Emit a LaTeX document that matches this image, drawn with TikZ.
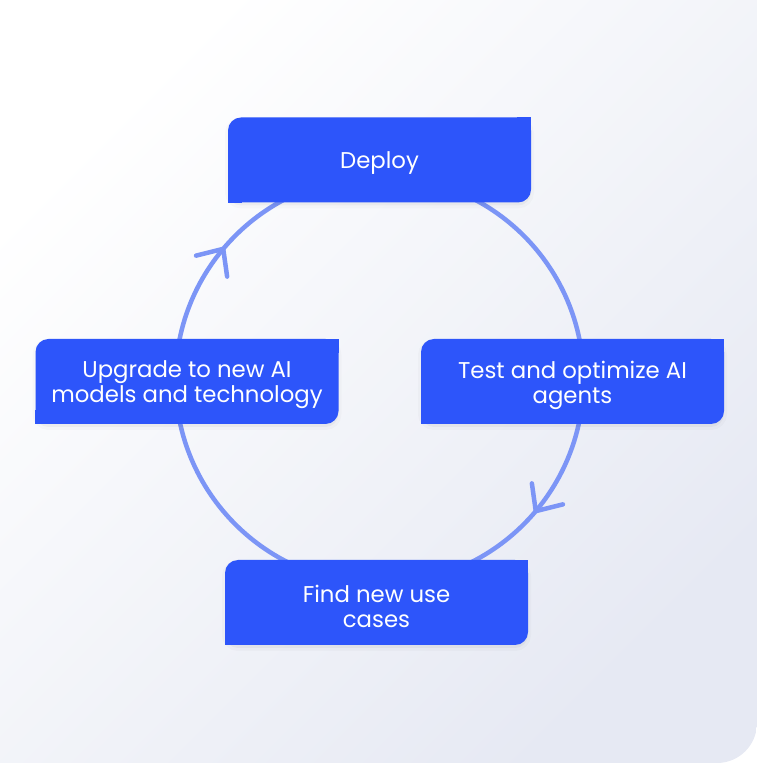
\documentclass[tikz,border=0pt]{standalone}
\usepackage{fontspec}
\setmainfont{Poppins}
\usetikzlibrary{calc}
\definecolor{boxblue}{RGB}{45,85,250}
\definecolor{ringblue}{RGB}{124,149,246}
\definecolor{bgA}{RGB}{255,255,255}
\definecolor{bgB}{RGB}{230,233,243}
\begin{document}
\begin{tikzpicture}[x=1pt,y=1pt,
  stepbox/.style={fill=boxblue, minimum width=303pt, minimum height=85pt,
    rounded corners=13pt, inner sep=0pt,
    preaction={fill=black, opacity=0.035, transform canvas={shift={(0pt,-3pt)}}},
    preaction={draw=black, line width=6pt, opacity=0.02, transform canvas={shift={(0pt,-3pt)}}}},
  steptext/.style={text=white, align=center, inner sep=0pt,
    font=\fontsize{22.8}{25}\selectfont},
  ring/.style={draw=ringblue, line width=4.5pt},
  chev/.style={draw=ringblue, line width=4.5pt, line cap=round, line join=round}]
\useasboundingbox (0,0) rectangle (757,763);
\shade[top color=bgA, bottom color=bgB, shading angle=45]
  (0,0) -- (0,763) -- (757,763) -- (757,40) arc[start angle=0, end angle=-90, radius=40] -- cycle;
% ring
\coordinate (C) at (379.5,383);
\draw[ring] (C) circle[radius=204];
\coordinate (P1) at ($(C)+(140:204)$);
\coordinate (P2) at ($(C)+(-40:204)$);
\draw[chev] ($(P1)+(194:28)$) -- (P1) -- ($(P1)+(278:28)$);
\draw[chev] ($(P2)+(14:28)$) -- (P2) -- ($(P2)+(98:28)$);
% boxes
\node[stepbox] (deploy) at (379.5,603) {};
\node[stepbox] (upgrade) at (187,381.5) {};
\node[stepbox] (test) at (572.5,381.5) {};
\node[stepbox] (find) at (376.5,160.5) {};
\foreach \n in {deploy,upgrade,test,find}{
  \fill[boxblue] (\n.north east) rectangle ++(-14,-14);
  \fill[boxblue] (\n.south west) rectangle ++(14,14);
}
% labels
\node[steptext] (deployT) at ($(deploy.center)+(0,-3.5)$) {Deploy};
\node[steptext] (upgradeT) at ($(upgrade.center)+(0,-3.5)$) {Upgrade to new AI\\models and technology};
\node[steptext] (testT) at ($(test.center)+(0,-3.5)$) {Test and optimize AI\\agents};
\node[steptext] (findT) at ($(find.center)+(0,-3.5)$) {Find new use\\cases};
\end{tikzpicture}
\end{document}
